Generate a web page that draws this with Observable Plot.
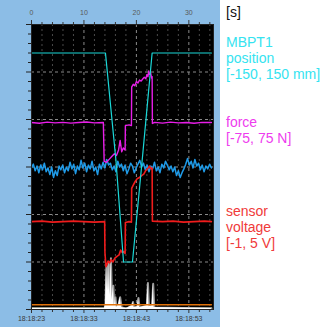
<!DOCTYPE html>
<html><head><meta charset="utf-8">
<script src="https://cdn.jsdelivr.net/npm/d3@7"></script>
<script src="https://cdn.jsdelivr.net/npm/@observablehq/plot@0.6"></script>
<style>
html,body{margin:0;padding:0;background:#fff;}
#wrap{display:flex;width:324px;height:327px;overflow:hidden;}
#chart{width:220px;height:327px;background:#8cbde6;}
#labels{width:104px;height:327px;background:#fff;}
svg{display:block;}
</style></head><body>
<div id="wrap"><div id="chart"></div><div id="labels"></div></div>
<script>
// ---- axis ticks / labels ----
const xMajor = [0, 10, 20, 30];
const topLabels = ["0", "10", "20", "30"];
const timeLabels = ["18:18:23", "18:18:33", "18:18:43", "18:18:53"];
const xMinor = [2, 4, 6, 8, 12, 14, 16, 18, 22, 24, 26, 28, 32, 34];
const yGrid = [-100, -50, 0, 50, 100, 150];
const yMajor = [-150, -100, -50, 0, 50, 100, 150];
const yMinor = [-140,-130,-120,-110,-90,-80,-70,-60,-40,-30,-20,-10,10,20,30,40,60,70,80,90,110,120,130,140];

// ---- MBPT1 position [mm] ----
const posT = [0, 14.1, 16.1, 17.55, 19.25, 21.1, 23.0, 34.3];
const posV = [120, 120, 7, -100, -100, 7, 120, 120];

// ---- force [N] ----
const forceT = [0, 1.5, 3, 4.5, 6, 7.5, 9, 10.5, 12, 13.7,
  13.85, 14.3, 14.8, 15.3, 15.8, 16.2, 16.6, 16.9, 17.2, 17.5,
  17.85, 17.9, 18.6, 19.05, 19.1, 19.4, 19.7, 20.0, 20.3, 20.6,
  20.9, 21.2, 21.5, 21.8, 22.0, 22.2, 22.35, 22.5, 22.7, 22.9,
  23.0, 23.05, 23.5, 25, 26.5, 28, 29.5, 31, 32.5, 34.3];
const forceV = [23.4, 23.0, 23.6, 23.2, 23.5, 23.1, 23.4, 23.7, 23.2, 23.4,
  3, 2.5, 4, 5.5, 7, 6, 9, 14, 8, 10,
  9, 21.8, 22.2, 21.8, 42, 43.5, 42.8, 45, 44.2, 45.8,
  45.2, 46.3, 47.2, 46.5, 48.6, 47.5, 50.5, 48.8, 49.6, 46.8,
  47.5, 22.9, 23.5, 23.1, 23.6, 23.2, 23.4, 23.0, 23.5, 23.4];

// ---- sensor voltage [V] ----
const voltT = [0, 2, 4, 6, 8, 10, 12, 13.95, 14.0, 14.2,
  14.4, 14.6, 14.9, 15.2, 15.5, 15.9, 16.3, 16.7, 17.0, 17.3,
  17.6, 17.85, 17.9, 18.6, 19.05, 19.1, 19.4, 19.8, 20.2, 20.6,
  21.0, 21.4, 21.8, 22.2, 22.5, 22.8, 23.0, 23.05, 25, 27,
  29, 31, 33, 34.3];
const voltV = [0.85, 0.86, 0.84, 0.85, 0.86, 0.85, 0.84, 0.85, 0.2, -0.1,
  -0.05, 0.02, -0.02, 0.05, 0.0, 0.08, 0.12, 0.15, 0.25, 0.2,
  0.22, 0.18, 0.83, 0.85, 0.84, 1.55, 1.62, 1.7, 1.76, 1.78,
  1.82, 1.85, 1.93, 1.97, 2.02, 1.96, 1.98, 0.86, 0.85, 0.86,
  0.84, 0.85, 0.86, 0.85];

// ---- unlabelled blue channel (display units) ----
const noiseV = [-1, 3, -4, 1, -6, 2, -3, 4, -5, -1, -8, 0, -11, -4, -9, 1, -3, 2, -6, 0,
  -4, 5, -2, 3, -7, 1, -3, 7, -1, 4, -5, 2, -2, 6, -4, 0, -8, 3, -2, 5,
  -1, 8, 2, 4, -3, 1, -5, 6, 0, 3, -4, 2, -7, -2, 4, 1, -6, -1, 3, 7,
  0, 4, -3, 2, -5, 1, -2, 5, -4, 0, -6, 3, -1, 6, 2, -3, 1, -5, 0, -9,
  -4, -11, -6, -2, 3, 9, 2, 6, -1, 8, 1, 4, -3, 2, -5, 1, -2, 3, -1];
const noiseEnd = 34.3;

// ---- white activity spikes (display units) ----
const spikeT = [0, 13.9, 14.1, 14.3, 14.5, 14.7, 14.9, 15.15, 15.35, 15.6,
  15.8, 16.0, 16.2, 16.6, 16.9, 17.2, 18.1, 19.15, 19.35, 19.55,
  20.2, 20.4, 20.6, 22.0, 22.2, 22.4, 23.0, 23.2, 23.4, 34.3];
const spikeV = [-149, -149, -145, -104, -130, -101, -135, -96, -140, -125,
  -146, -137, -148, -145, -137, -148, -149, -146, -142, -148,
  -147, -138, -148, -146, -122, -147, -146, -123, -148, -149];

// ---- constant bottom channels ----
const levelT = [0, 34.3];
const orangeV = [-145, -145];
const oliveV = [-148.3, -148.3];

const forceToDisp = f => f * 2;            // [-75,75] -> [-150,150]
const voltToDisp = v => (v + 1) * 50 - 150; // [-1,5] -> [-150,150]

const noiseData = noiseV.map((v, i) => ({t: i * noiseEnd / (noiseV.length - 1), v}));
const posData = posT.map((t, i) => ({t, v: posV[i]}));
const forceData = forceT.map((t, i) => ({t, v: forceV[i]}));
const voltData = voltT.map((t, i) => ({t, v: voltV[i]}));
const spikeData = spikeT.map((t, i) => ({t, v: spikeV[i]}));
const orangeData = levelT.map((t, i) => ({t, v: orangeV[i]}));
const oliveData = levelT.map((t, i) => ({t, v: oliveV[i]}));

const blank = () => "";
const chart = Plot.plot({
  width: 220, height: 327,
  marginLeft: 31, marginRight: 7, marginTop: 24, marginBottom: 18,
  style: {background: "transparent", fontFamily: "'Liberation Sans', Arial, sans-serif"},
  x: {domain: [0, 34.7]},
  y: {domain: [-150, 150]},
  marks: [
    Plot.frame({fill: "#000"}),
    Plot.gridX(xMinor, {stroke: "#4a4a4a", strokeOpacity: 1, strokeDasharray: "2,3"}),
    Plot.gridX(xMajor, {stroke: "#8a8a8a", strokeOpacity: 1, strokeDasharray: "3,3"}),
    Plot.gridY(yGrid, {stroke: "#8a8a8a", strokeOpacity: 1, strokeDasharray: "3,3"}),
    Plot.axisX(xMajor, {anchor: "top", tickSize: 5, tickPadding: 5, fontSize: 7, stroke: "#333", fill: "#5a5a5a",
      tickFormat: d => topLabels[xMajor.indexOf(d)], label: null}),
    Plot.axisX(xMinor, {anchor: "top", tickSize: 3, stroke: "#333", tickFormat: blank, label: null}),
    Plot.axisX(xMajor, {anchor: "bottom", tickSize: 4, tickPadding: 3, fontSize: 7, stroke: "#333", fill: "#3a3a3a",
      tickFormat: d => timeLabels[xMajor.indexOf(d)], label: null}),
    Plot.axisX(xMinor, {anchor: "bottom", tickSize: 3, stroke: "#333", tickFormat: blank, label: null}),
    Plot.axisY(yMajor, {anchor: "left", tickSize: 5, stroke: "#222", tickFormat: blank, label: null}),
    Plot.axisY(yMinor, {anchor: "left", tickSize: 3, stroke: "#222", tickFormat: blank, label: null}),
    Plot.lineY(oliveData, {x: "t", y: "v", stroke: "#8f9478", strokeWidth: 2}),
    Plot.lineY(spikeData, {x: "t", y: "v", stroke: "#9a9a9a", strokeWidth: 2}),
    Plot.areaY(spikeData, {x: "t", y1: -150, y2: "v", fill: "#fff"}),
    Plot.lineY(orangeData, {x: "t", y: "v", stroke: "#e0720a", strokeWidth: 1.5}),
    Plot.lineY(noiseData, {x: "t", y: "v", stroke: "#1f9be8", strokeWidth: 1.5}),
    Plot.lineY(voltData, {x: "t", y: d => voltToDisp(d.v), stroke: "#f01c1c", strokeWidth: 1.6}),
    Plot.lineY(forceData, {x: "t", y: d => forceToDisp(d.v), stroke: "#e81ee8", strokeWidth: 1.4}),
    Plot.lineY(posData, {x: "t", y: "v", stroke: "#1ad8d8", strokeWidth: 1.2}),
    Plot.frame({stroke: "#222"})
  ]
});
document.getElementById("chart").appendChild(chart);

// ---- right-hand legend text ----
const legendGroups = [
  {lines: ["[s]"], color: "#111", y: 17},
  {lines: ["MBPT1", "position", "[-150, 150 mm]"], color: "#35e3f0", y: 47},
  {lines: ["force", "[-75, 75 N]"], color: "#ee3cee", y: 127},
  {lines: ["sensor", "voltage", "[-1, 5 V]"], color: "#f03a3a", y: 216}
];
const lsvg = d3.select("#labels").append("svg").attr("width", 104).attr("height", 327);
legendGroups.forEach(g => {
  g.lines.forEach((s, i) => {
    lsvg.append("text").attr("x", 6).attr("y", g.y + i * 16)
      .attr("fill", g.color).attr("font-size", 14)
      .attr("font-family", "'Liberation Sans', Arial, sans-serif").text(s);
  });
});
</script></body></html>
